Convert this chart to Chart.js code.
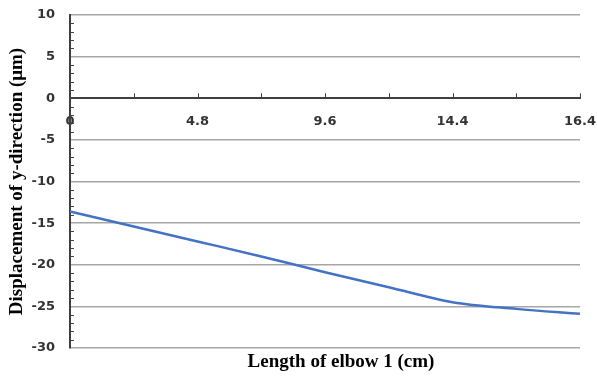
<!DOCTYPE html>
<html>
<head>
<meta charset="utf-8">
<script src="https://cdn.jsdelivr.net/npm/chart.js@4/dist/chart.umd.min.js"></script>
<style>
  html, body { margin: 0; padding: 0; background: #fff; }
  #wrap { width: 597px; height: 378px; }
</style>
</head>
<body>
<div id="wrap"><canvas id="chart" width="597" height="378"></canvas></div>
<script>
// Tick labels along the x axis (only every other tick is labelled)
const xLabels = ["0", "", "4.8", "", "9.6", "", "14.4", "", "16.4"];

// Displacement in the y direction (µm)
const yValues = [-13.6, -15.4, -17.2, -19.0, -20.9, -22.7, -24.5, -25.3, -25.9];

const Y_MIN = -30;
const Y_MAX = 10;
const Y_STEP = 5;

const AXIS_COLOR = "#404040";
const GRID_COLOR = "#a6a6a6";
const LINE_COLOR = "#4472c4";

// Excel-style small ticks pointing into the plot, plus the x title
const extrasPlugin = {
  id: "extras",
  afterDraw: function (chart) {
    const ctx = chart.ctx;
    const x = chart.scales.x;
    const y = chart.scales.y;
    const area = chart.chartArea;
    ctx.save();
    ctx.strokeStyle = AXIS_COLOR;
    ctx.lineWidth = 1;

    // minor ticks on the y axis, one per unit
    for (let v = Y_MIN; v <= Y_MAX; v++) {
      if (v % Y_STEP === 0) continue;
      const py = Math.round(y.getPixelForValue(v)) + 0.5;
      ctx.beginPath();
      ctx.moveTo(area.left, py);
      ctx.lineTo(area.left + 4, py);
      ctx.stroke();
    }

    // ticks on the x axis, pointing up from the zero line
    const y0 = y.getPixelForValue(0);
    for (let i = 1; i < xLabels.length; i++) {
      const px = Math.round(x.getPixelForValue(i)) + 0.5;
      ctx.beginPath();
      ctx.moveTo(px, y0);
      ctx.lineTo(px, y0 - 5);
      ctx.stroke();
    }

    // x axis title, below the plot
    ctx.fillStyle = "#000";
    ctx.font = "bold 19px 'Liberation Serif', 'Times New Roman', serif";
    ctx.textAlign = "center";
    ctx.textBaseline = "middle";
    ctx.fillText("Length of elbow 1 (cm)", 341, 362);
    ctx.restore();
  }
};

new Chart(document.getElementById("chart"), {
  type: "line",
  data: {
    labels: xLabels,
    datasets: [{
      data: yValues,
      borderColor: LINE_COLOR,
      borderWidth: 2.5,
      pointRadius: 0,
      cubicInterpolationMode: "monotone",
      fill: false
    }]
  },
  options: {
    responsive: false,
    animation: false,
    layout: { padding: { left: 3, right: 17, top: 15, bottom: 30 } },
    plugins: {
      legend: { display: false },
      tooltip: { enabled: false }
    },
    scales: {
      x: {
        type: "category",
        position: { y: 0 },
        offset: false,
        // the axis sits at y = 0 inside the plot, so it takes no layout room
        afterFit: function (scale) {
          scale.height = 0;
          scale.paddingLeft = 0;
          scale.paddingRight = 0;
        },
        grid: { display: false },
        border: { display: true, color: AXIS_COLOR, width: 2 },
        ticks: {
          autoSkip: false,
          maxRotation: 0,
          padding: 8,
          color: "#333",
          font: { family: "'DejaVu Sans', sans-serif", size: 13, weight: "bold" }
        }
      },
      y: {
        min: Y_MIN,
        max: Y_MAX,
        afterFit: function (scale) {
          scale.width = 67;
          scale.paddingTop = 0;
          scale.paddingBottom = 0;
        },
        ticks: {
          stepSize: Y_STEP,
          padding: 15,
          color: "#333",
          font: { family: "'DejaVu Sans', sans-serif", size: 13, weight: "bold" }
        },
        grid: {
          drawTicks: false,
          lineWidth: 1.5,
          color: function (c) { return c.tick && c.tick.value === 0 ? "rgba(0,0,0,0)" : GRID_COLOR; }
        },
        border: { display: true, color: AXIS_COLOR, width: 2 },
        title: {
          display: true,
          text: "Displacement of y-direction (μm)",
          color: "#000",
          padding: { top: 3, bottom: 0 },
          font: { family: "'Liberation Serif', 'Times New Roman', serif", size: 19, weight: "bold" }
        }
      }
    }
  },
  plugins: [extrasPlugin]
});
</script>
</body>
</html>
